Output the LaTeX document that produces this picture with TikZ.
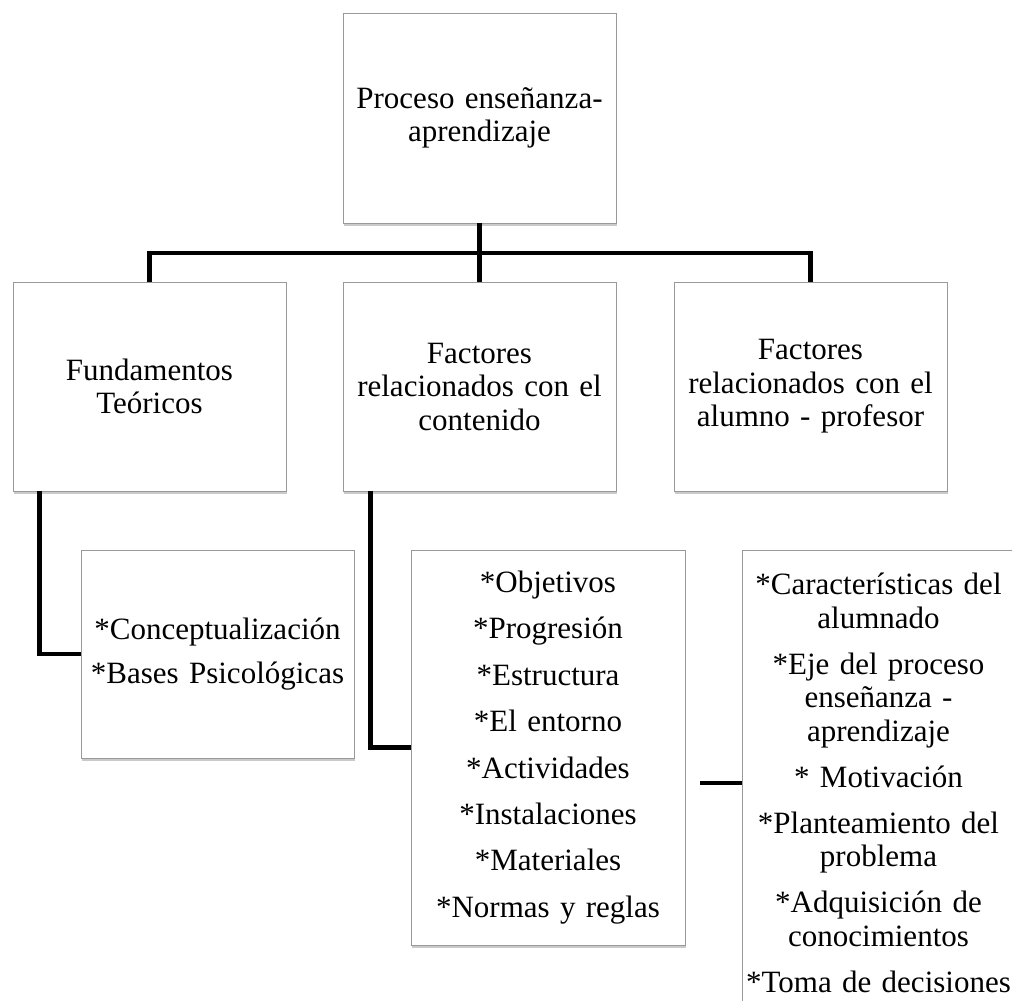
\documentclass[tikz,border=0pt]{standalone}
\usepackage{fontspec}
\setmainfont{Liberation Serif}
\usetikzlibrary{shadows}
\tikzset{
  box/.style={draw=black!40, line width=0.8pt, fill=white, inner sep=0pt,
    minimum width=273pt, align=center, text width=268pt,
    font=\fontsize{31}{33.5}\selectfont,
    drop shadow={shadow xshift=1.2pt, shadow yshift=-2.5pt, opacity=0.35, fill=black!60}},
  link/.style={line width=4.5pt, black},
}
\begin{document}
\begin{tikzpicture}[x=1pt,y=-1pt]
\useasboundingbox (0,0) rectangle (1012,1001);
\node[box, minimum height=210pt] (top) at (479.5,118) {Proceso enseñanza-\\aprendizaje};
\node[box, minimum height=209pt] (fund) at (149.5,386.5) {Fundamentos\\Teóricos};
\node[box, minimum height=209pt] (cont) at (479.5,386.5) {Factores\\relacionados con el\\contenido};
\node[box, minimum height=209pt] (alum) at (810.5,386.5) {Factores\\relacionados con el\\alumno - profesor};
\node[box, minimum height=208pt] (conc) at (217.5,654) {*Conceptualización\\[11pt]*Bases Psicológicas};
\node[box, minimum height=395pt, minimum width=274pt] (list) at (548,747.5) {*Objetivos\\[12.9pt]*Progresión\\[12.9pt]*Estructura\\[12.9pt]*El entorno\\[12.9pt]*Actividades\\[12.9pt]*Instalaciones\\[12.9pt]*Materiales\\[12.9pt]*Normas y reglas};
\node[box, minimum height=466pt] (char) at (878.5,783) {*Características del\\alumnado\\[12.5pt]*Eje del proceso\\enseñanza -\\aprendizaje\\[12.5pt]* Motivación\\[12.5pt]*Planteamiento del\\problema\\[12.5pt]*Adquisición de\\conocimientos\\[12.5pt]*Toma de decisiones};
\coordinate (bus) at (479.5,253);
\coordinate (stub) at (700,783);
\draw[link] (top.south) -- (cont.north);
\draw[link] (fund.north) |- (bus) -| (alum.north);
\draw[link] ([xshift=27pt]fund.south west) |- (conc.west);
\draw[link] ([xshift=28pt]cont.south west) |- (list.west);
\draw[link] (stub) -- (char.west);
\end{tikzpicture}
\end{document}
